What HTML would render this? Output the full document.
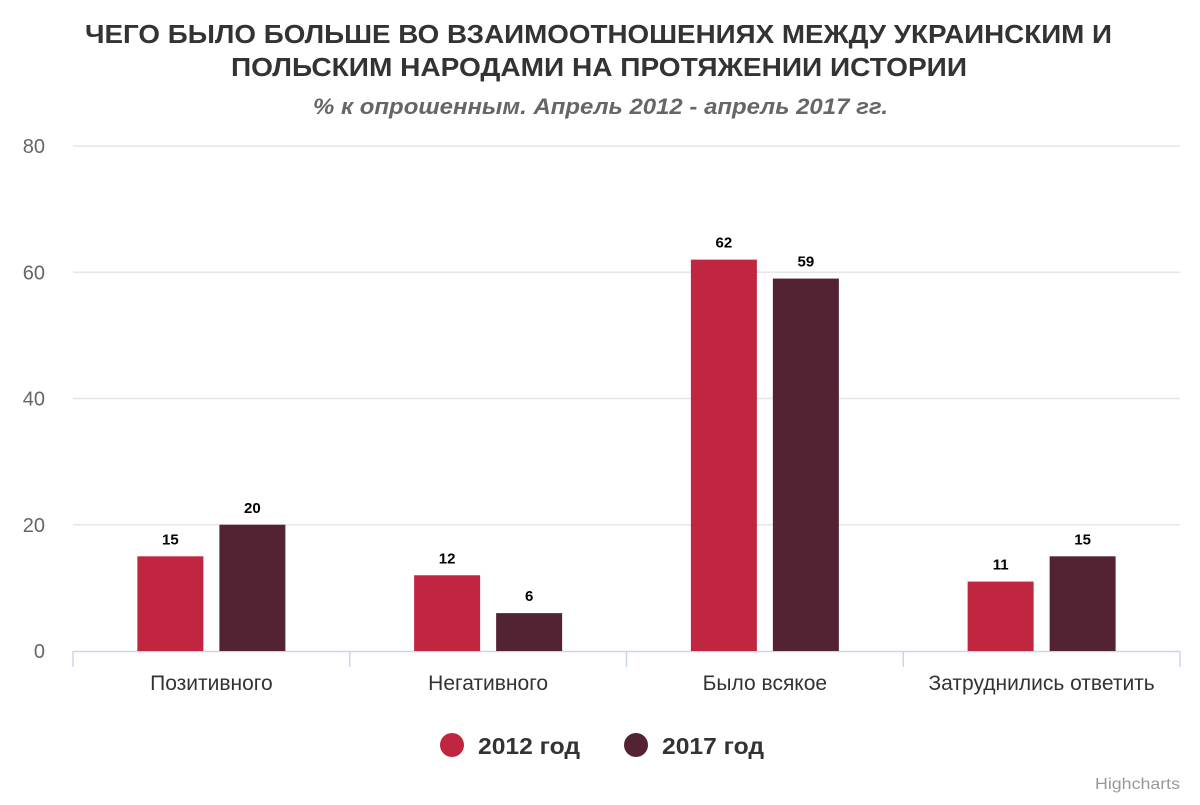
<!DOCTYPE html>
<html><head><meta charset="utf-8"><style>
body{margin:0;background:#fff;}
svg{font-family:"Liberation Sans",Arial,sans-serif;}
</style></head><body>
<svg id="chart" width="1200" height="800">
<rect width="1200" height="800" fill="#fff"/>
<text x="85" y="43" textLength="1027" lengthAdjust="spacingAndGlyphs" font-size="26" font-weight="bold" fill="#333">ЧЕГО БЫЛО БОЛЬШЕ ВО ВЗАИМООТНОШЕНИЯХ МЕЖДУ УКРАИНСКИМ И</text>
<text x="231" y="76" textLength="736" lengthAdjust="spacingAndGlyphs" font-size="26" font-weight="bold" fill="#333">ПОЛЬСКИМ НАРОДАМИ НА ПРОТЯЖЕНИИ ИСТОРИИ</text>
<text x="313" y="114" textLength="575" lengthAdjust="spacingAndGlyphs" font-size="22" font-weight="bold" font-style="italic" fill="#666">% к опрошенным. Апрель 2012 - апрель 2017 гг.</text>
<g id="grid"></g><g id="bars"></g><g id="labels"></g>
<g>
<circle cx="452" cy="745" r="12" fill="#c0263f"/>
<text x="478" y="754" textLength="102" lengthAdjust="spacingAndGlyphs" font-size="23" font-weight="bold" fill="#333">2012 год</text>
<circle cx="636" cy="745" r="12" fill="#532334"/>
<text x="662" y="754" textLength="102" lengthAdjust="spacingAndGlyphs" font-size="23" font-weight="bold" fill="#333">2017 год</text>
</g>
<text x="1180" y="789" text-anchor="end" textLength="85" lengthAdjust="spacingAndGlyphs" font-size="16" fill="#999">Highcharts</text>
</svg>
<script>
const categories=["Позитивного","Негативного","Было всякое","Затруднились ответить"];
const values2012=[15,12,62,11];
const values2017=[20,6,59,15];
const yTicks=[0,20,40,60,80];
const NS="http://www.w3.org/2000/svg";
const L=73,R=1180,T=146,B=651,yMax=80;
const y=v=>B-(v/yMax)*(B-T);
const cw=(R-L)/categories.length;
const xc=i=>L+cw*(i+0.5);
function mk(tag,attrs,parent,txt){const e=document.createElementNS(NS,tag);for(const k in attrs)e.setAttribute(k,attrs[k]);if(txt!==undefined)e.textContent=txt;document.getElementById(parent).appendChild(e);return e;}
yTicks.forEach(t=>{
  if(t>0){const g=mk('line',{x1:L,x2:R,y1:y(t),y2:y(t),stroke:'#e6e6e6','stroke-width':1.5},'grid');
  
  }
  const l=mk('text',{x:45,y:y(t)+7,'text-anchor':'end','font-size':20,fill:'#666'},'labels',t);
  
  
});
const ax=mk('line',{x1:L,x2:R,y1:B+0.5,y2:B+0.5,stroke:'#ccd6eb','stroke-width':1.5},'grid');


for(let i=0;i<=categories.length;i++){
  const tk=mk('line',{x1:L+cw*i,x2:L+cw*i,y1:B,y2:B+16,stroke:'#ccd6eb','stroke-width':1.5},'grid');
  
  
}
const series=[{v:values2012,c:'#c0263f',off:-41,n:'2012'},{v:values2017,c:'#532334',off:41,n:'2017'}];
categories.forEach((c,i)=>{
  const cl=mk('text',{x:xc(i),y:690,'text-anchor':'middle','font-size':21,fill:'#333'},'labels',c);
  
  
  series.forEach(s=>{
    const v=s.v[i],cx=xc(i)+s.off;
    const b=mk('rect',{x:cx-33,y:y(v),width:66,height:B-y(v),fill:s.c},'bars');
    
    
    const t=mk('text',{x:cx,y:y(v)-12,'text-anchor':'middle','font-size':15,'font-weight':'bold',fill:'#000'},'labels',v);
    
    
  });
});
</script>
</body></html>
